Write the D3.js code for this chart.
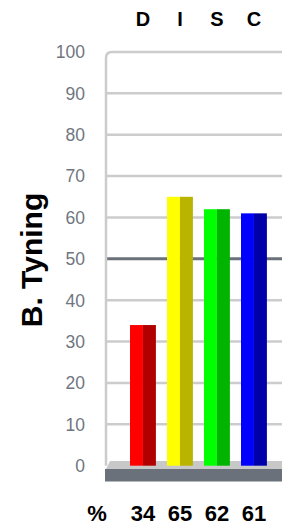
<!DOCTYPE html>
<html>
<head>
	<title></title>
	<script src="https://d3js.org/d3.v7.min.js"></script>
	<style>
		body { margin: 0; background: #fff; }
		svg { display: block; }
	</style>
</head>
<body>

<script>

var width = 282
var height = 525

// data
var categories = ['D', 'I', 'S', 'C']
var values = [34, 65, 62, 61]
var frontColors = ['#ff0000', '#ffff00', '#00ff00', '#0000ff']
var sideColors = ['#b00000', '#b8b400', '#00b400', '#0000a8']
var ticks = [0, 10, 20, 30, 40, 50, 60, 70, 80, 90, 100]
var title = 'B. Tyning'

var svg = d3.select('body').append('svg')
	.attr('width', width)
	.attr('height', height)

var y = d3.scaleLinear().domain([0, 100]).range([465.7, 52])
var x = d3.scaleBand().domain(categories)
	.range([124.45, 272.45])
	.paddingInner(0.3)
	.paddingOuter(0.15)

var wallX = 106

// gridlines
svg.append('g')
	.selectAll('line')
	.data(ticks.filter(function(d) { return d > 0 && d < 100 }))
	.enter().append('line')
	.attr('x1', wallX)
	.attr('x2', width)
	.attr('y1', function(d) { return y(d) })
	.attr('y2', function(d) { return y(d) })
	.attr('stroke', function(d) { return d == 50 ? '#6b717a' : '#cccccc' })
	.attr('stroke-width', function(d) { return d == 50 ? 3 : 2.5 })

// wall + top line with rounded corner
var r = 6
svg.append('path')
	.attr('d', 'M' + wallX + ',' + y(0) + ' L' + wallX + ',' + (y(100) + r) +
		' Q' + wallX + ',' + y(100) + ' ' + (wallX + r) + ',' + y(100) + ' L' + width + ',' + y(100))
	.attr('fill', 'none')
	.attr('stroke', '#cccccc')
	.attr('stroke-width', 2.5)

// floor
svg.append('path')
	.attr('d', 'M' + (wallX + 4) + ',' + 461 + ' L' + width + ',461 L' + width + ',469 L' + wallX + ',469 Z')
	.attr('fill', '#c8c8c8')
svg.append('rect')
	.attr('x', 105)
	.attr('y', 469)
	.attr('width', width - 105)
	.attr('height', 12.5)
	.attr('fill', '#6b717a')

// tick labels
svg.append('g')
	.selectAll('text')
	.data(ticks)
	.enter().append('text')
	.attr('x', 85)
	.attr('y', function(d) { return y(d) })
	.attr('dy', '0.36em')
	.attr('text-anchor', 'end')
	.style('font-family', 'Liberation Sans, Arial, sans-serif')
	.style('font-size', '17.5px')
	.style('fill', '#70767f')
	.text(function(d) { return d })

// bars
var bars = svg.append('g')
	.selectAll('g')
	.data(categories)
	.enter().append('g')

bars.append('rect')
	.attr('x', function(d) { return x(d) })
	.attr('y', function(d, i) { return y(values[i]) })
	.attr('width', x.bandwidth() / 2)
	.attr('height', function(d, i) { return y(0) - y(values[i]) })
	.attr('fill', function(d, i) { return frontColors[i] })

bars.append('rect')
	.attr('x', function(d) { return x(d) + x.bandwidth() / 2 })
	.attr('y', function(d, i) { return y(values[i]) })
	.attr('width', x.bandwidth() / 2)
	.attr('height', function(d, i) { return y(0) - y(values[i]) })
	.attr('fill', function(d, i) { return sideColors[i] })

// top labels
svg.append('g')
	.selectAll('text')
	.data(categories)
	.enter().append('text')
	.attr('x', function(d) { return x(d) + x.bandwidth() / 2 })
	.attr('y', 26)
	.attr('text-anchor', 'middle')
	.style('font-family', 'Liberation Sans, Arial, sans-serif')
	.style('font-weight', 'bold')
	.style('font-size', '20px')
	.style('fill', '#000')
	.text(function(d) { return d })

// bottom values
svg.append('g')
	.selectAll('text')
	.data(values)
	.enter().append('text')
	.attr('x', function(d, i) { return x(categories[i]) + x.bandwidth() / 2 })
	.attr('y', 521)
	.attr('text-anchor', 'middle')
	.style('font-family', 'Liberation Sans, Arial, sans-serif')
	.style('font-weight', 'bold')
	.style('font-size', '22px')
	.style('fill', '#000')
	.text(function(d) { return d })

svg.append('text')
	.attr('x', 97)
	.attr('y', 521)
	.attr('text-anchor', 'middle')
	.style('font-family', 'Liberation Sans, Arial, sans-serif')
	.style('font-weight', 'bold')
	.style('font-size', '22px')
	.text('%')

// y title
svg.append('text')
	.attr('transform', 'translate(42,260) rotate(-90)')
	.attr('text-anchor', 'middle')
	.style('font-family', 'Liberation Sans, Arial, sans-serif')
	.style('font-weight', 'bold')
	.style('font-size', '30px')
	.text(title)

</script>

</body>
</html>
